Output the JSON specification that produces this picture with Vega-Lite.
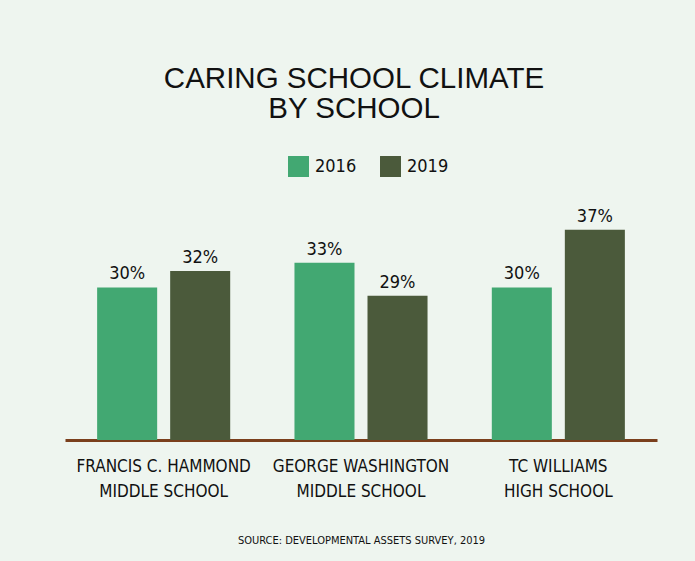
{
  "$schema": "https://vega.github.io/schema/vega-lite/v6.json",
  "autosize": "none",
  "width": 592,
  "height": 231,
  "padding": {"left": 65, "top": 209, "right": 38, "bottom": 121},
  "background": "#eef5ef",
  "config": {"view": {"stroke": null}},
  "title": {
    "text": ["CARING SCHOOL CLIMATE", "BY SCHOOL"],
    "anchor": "middle",
    "frame": "group",
    "font": "Liberation Sans",
    "fontSize": 29.5,
    "fontWeight": "normal",
    "color": "#111111",
    "lineHeight": 30,
    "offset": 32,
    "dx": -7
  },
  "data": {
    "values": [
      {"school": "FRANCIS C. HAMMOND|MIDDLE SCHOOL", "year": "2016", "value": 0.30},
      {"school": "FRANCIS C. HAMMOND|MIDDLE SCHOOL", "year": "2019", "value": 0.32},
      {"school": "GEORGE WASHINGTON|MIDDLE SCHOOL", "year": "2016", "value": 0.33},
      {"school": "GEORGE WASHINGTON|MIDDLE SCHOOL", "year": "2019", "value": 0.29},
      {"school": "TC WILLIAMS|HIGH SCHOOL", "year": "2016", "value": 0.30},
      {"school": "TC WILLIAMS|HIGH SCHOOL", "year": "2019", "value": 0.37}
    ]
  },
  "encoding": {
    "x": {
      "field": "school",
      "type": "nominal",
      "sort": null,
      "scale": {"paddingInner": 0, "paddingOuter": 0},
      "axis": {
        "title": "SOURCE: DEVELOPMENTAL ASSETS SURVEY, 2019",
        "titleFont": "DejaVu Sans Condensed, Liberation Sans, sans-serif",
        "titleFontSize": 11,
        "titleFontWeight": "normal",
        "titleColor": "#111111",
        "titlePadding": 35,
        "labelExpr": "split(datum.label, '|')",
        "labelAngle": 0,
        "labelLimit": 0,
        "labelFont": "DejaVu Sans Condensed, Liberation Sans, sans-serif",
        "labelFontSize": 17,
        "labelColor": "#111111",
        "labelLineHeight": 25,
        "labelPadding": 18,
        "ticks": false,
        "domainColor": "#7a3f1c",
        "domainWidth": 3
      }
    },
    "xOffset": {
      "field": "year",
      "type": "nominal",
      "scale": {"paddingInner": 0.178, "paddingOuter": 0.44}
    },
    "y": {
      "field": "value",
      "type": "quantitative",
      "scale": {"domain": [0.115, 0.395], "zero": false, "nice": false},
      "axis": null
    }
  },
  "layer": [
    {
      "mark": {"type": "bar"},
      "encoding": {
        "y2": {"datum": 0.115},
        "color": {
          "field": "year",
          "type": "nominal",
          "scale": {"domain": ["2016", "2019"], "range": ["#42a872", "#4b5a3b"]},
          "legend": {
            "title": null,
            "orient": "none",
            "legendX": 223,
            "legendY": -53,
            "direction": "horizontal",
            "symbolType": "square",
            "symbolSize": 440,
            "symbolStrokeWidth": 0,
            "labelFont": "DejaVu Sans Condensed, Liberation Sans, sans-serif",
            "labelFontSize": 18,
            "labelColor": "#111111",
            "labelOffset": 6,
            "columnPadding": 23
          }
        }
      }
    },
    {
      "mark": {
        "type": "text",
        "baseline": "bottom",
        "dy": -4,
        "font": "DejaVu Sans Condensed, Liberation Sans, sans-serif",
        "fontSize": 18,
        "color": "#111111"
      },
      "encoding": {
        "text": {"field": "value", "type": "quantitative", "format": ".0%"}
      }
    }
  ]
}
